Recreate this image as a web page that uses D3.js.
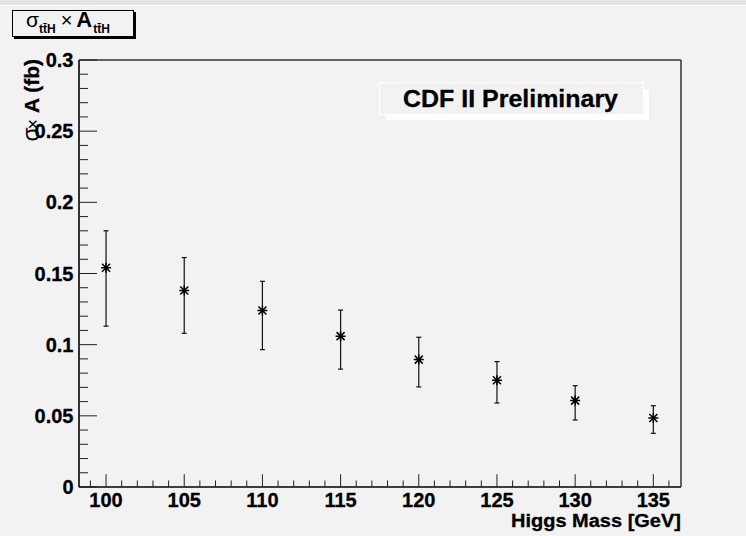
<!DOCTYPE html>
<html>
<head>
<meta charset="utf-8">
<script src="https://cdn.jsdelivr.net/npm/d3@7"></script>
<style>
  html, body { margin: 0; padding: 0; background: #f2f2f2; }
  svg { display: block; font-family: "Liberation Sans", Arial, Helvetica, sans-serif; }
</style>
</head>
<body>
<svg id="chart" width="746" height="536"></svg>
<script>
// Higgs mass points (GeV) and sigma x acceptance (fb) with lower / upper errors
const masses = [100, 105, 110, 115, 120, 125, 130, 135];
const sigmaA = [0.154, 0.138, 0.124, 0.106, 0.0895, 0.075, 0.0607, 0.0485];
const errLow = [0.041, 0.030, 0.0275, 0.0232, 0.0192, 0.016, 0.0136, 0.0108];
const errHigh = [0.026, 0.0232, 0.0205, 0.0183, 0.0157, 0.0131, 0.0105, 0.0086];
const xTicks = [100, 105, 110, 115, 120, 125, 130, 135];
const yTicks = [0, 0.05, 0.1, 0.15, 0.2, 0.25, 0.3];
const yTickLabels = ["0", "0.05", "0.1", "0.15", "0.2", "0.25", "0.3"];

const svg = d3.select("#chart");
const W = 746, H = 536;
const frame = { left: 79, right: 681, top: 60, bottom: 487 };

// canvas background with a light band at the top edge
svg.append("rect").attr("x", 0).attr("y", 0).attr("width", W).attr("height", H).attr("fill", "#f2f2f2");
svg.append("rect").attr("x", 0).attr("y", 0).attr("width", W).attr("height", 5).attr("fill", "#e3e3e3");
svg.append("rect").attr("x", 0).attr("y", 5).attr("width", W).attr("height", 1).attr("fill", "#ffffff");

const x = d3.scaleLinear().domain([98.27, 136.77]).range([frame.left, frame.right]);
const y = d3.scaleLinear().domain([0, 0.3]).range([frame.bottom, frame.top]);

// plot frame
const g = svg.append("g");
g.append("line").attr("x1", frame.left).attr("x2", frame.left).attr("y1", frame.top).attr("y2", frame.bottom)
  .attr("stroke", "#000").attr("stroke-width", 1.6);
g.append("line").attr("x1", frame.left).attr("x2", frame.right).attr("y1", frame.bottom).attr("y2", frame.bottom)
  .attr("stroke", "#000").attr("stroke-width", 1.6);
g.append("line").attr("x1", frame.right).attr("x2", frame.right).attr("y1", frame.top).attr("y2", frame.bottom)
  .attr("stroke", "#333").attr("stroke-width", 1.5);
g.append("line").attr("x1", frame.left).attr("x2", frame.right).attr("y1", frame.top).attr("y2", frame.top)
  .attr("stroke", "#333").attr("stroke-width", 1.5);

// x axis ticks: major every 5 GeV, minor every 1 GeV
const xMinor = d3.range(99, 137, 1).filter(v => v % 5 !== 0);
g.selectAll(".xminor").data(xMinor).join("line")
  .attr("x1", d => x(d)).attr("x2", d => x(d))
  .attr("y1", frame.bottom).attr("y2", frame.bottom - 6.5)
  .attr("stroke", "#222").attr("stroke-width", 1);
g.selectAll(".xmajor").data(xTicks).join("line")
  .attr("x1", d => x(d)).attr("x2", d => x(d))
  .attr("y1", frame.bottom).attr("y2", frame.bottom - 12.8)
  .attr("stroke", "#222").attr("stroke-width", 1);
g.selectAll(".xlab").data(xTicks).join("text")
  .attr("x", d => x(d)).attr("y", 506.5)
  .attr("text-anchor", "middle").attr("font-weight", "bold").attr("font-size", 20)
  .attr("stroke", "#000").attr("stroke-width", 0.3)
  .text(d => d);

// y axis ticks: major every 0.05, minor every 0.01
const yMinor = d3.range(1, 30).filter(i => i % 5 !== 0).map(i => i / 100);
g.selectAll(".yminor").data(yMinor).join("line")
  .attr("x1", frame.left).attr("x2", frame.left + 9)
  .attr("y1", d => y(d)).attr("y2", d => y(d))
  .attr("stroke", "#222").attr("stroke-width", 1);
g.selectAll(".ymajor").data(yTicks).join("line")
  .attr("x1", frame.left).attr("x2", frame.left + 18)
  .attr("y1", d => y(d)).attr("y2", d => y(d))
  .attr("stroke", "#222").attr("stroke-width", 1);
g.selectAll(".ylab").data(yTicks).join("text")
  .attr("x", 73.5).attr("y", d => y(d) + 7)
  .attr("text-anchor", "end").attr("font-weight", "bold").attr("font-size", 20)
  .attr("stroke", "#000").attr("stroke-width", 0.3)
  .text((d, i) => yTickLabels[i]);

// axis titles
svg.append("text").attr("x", frame.right).attr("y", 527)
  .attr("text-anchor", "end").attr("font-weight", "bold").attr("font-size", 18)
  .attr("stroke", "#000").attr("stroke-width", 0.3)
  .attr("textLength", 170).attr("lengthAdjust", "spacingAndGlyphs")
  .text("Higgs Mass [GeV]");

const yTitle = svg.append("text")
  .attr("transform", `translate(39,${frame.top - 1}) rotate(-90)`)
  .attr("text-anchor", "end").attr("font-size", 21);
yTitle.append("tspan").attr("font-weight", "normal").attr("font-size", 23).text("σ");
yTitle.append("tspan").attr("font-weight", "normal").attr("font-size", 18).attr("dx", -2).text("×");
yTitle.append("tspan").attr("font-weight", "bold").attr("stroke", "#000").attr("stroke-width", 0.3).text(" A (fb)");

// error bars
const pts = masses.map((m, i) => ({ m, v: sigmaA[i], lo: sigmaA[i] - errLow[i], hi: sigmaA[i] + errHigh[i] }));
const eb = svg.append("g").attr("stroke", "#111").attr("stroke-width", 1.2);
eb.selectAll(".bar").data(pts).join("line")
  .attr("x1", d => x(d.m)).attr("x2", d => x(d.m))
  .attr("y1", d => y(d.lo)).attr("y2", d => y(d.hi));
eb.selectAll(".capTop").data(pts).join("line")
  .attr("x1", d => x(d.m) - 2.5).attr("x2", d => x(d.m) + 2.5)
  .attr("y1", d => y(d.hi)).attr("y2", d => y(d.hi));
eb.selectAll(".capBot").data(pts).join("line")
  .attr("x1", d => x(d.m) - 2.5).attr("x2", d => x(d.m) + 2.5)
  .attr("y1", d => y(d.lo)).attr("y2", d => y(d.lo));

// asterisk markers
const r = 5, dd = 4;
svg.append("g").selectAll("path").data(pts).join("path")
  .attr("d", d => {
    const cx = x(d.m), cy = y(d.v);
    return `M${cx - r},${cy}H${cx + r}M${cx},${cy - r}V${cy + r}` +
      `M${cx - dd},${cy - dd}L${cx + dd},${cy + dd}M${cx - dd},${cy + dd}L${cx + dd},${cy - dd}`;
  })
  .attr("stroke", "#000").attr("stroke-width", 1.5).attr("fill", "none");

// "CDF II Preliminary" label box with a light shadow
svg.append("rect").attr("x", 386).attr("y", 89).attr("width", 263).attr("height", 31).attr("fill", "#ffffff");
svg.append("rect").attr("x", 379.5).attr("y", 82.5).attr("width", 264).attr("height", 32)
  .attr("fill", "#f2f2f2").attr("stroke", "#ffffff").attr("stroke-width", 1.2);
svg.append("text").attr("x", 403).attr("y", 107)
  .attr("font-weight", "bold").attr("font-size", 23)
  .attr("stroke", "#000").attr("stroke-width", 0.3)
  .attr("textLength", 215).attr("lengthAdjust", "spacingAndGlyphs")
  .text("CDF II Preliminary");

// title box with dark drop shadow
svg.append("rect").attr("x", 14).attr("y", 12).attr("width", 122).attr("height", 27).attr("fill", "#000");
svg.append("rect").attr("x", 12.5).attr("y", 10.5).attr("width", 121).attr("height", 26)
  .attr("fill", "#f2f2f2").attr("stroke", "#000").attr("stroke-width", 1);
const title = svg.append("text").attr("x", 26).attr("y", 27).attr("font-size", 19);
title.append("tspan").attr("font-size", 21).text("σ");
title.append("tspan").attr("font-size", 12).attr("font-weight", "bold").attr("dy", 6).text("tt\u0304H");
title.append("tspan").attr("font-size", 20).attr("dy", -6).attr("dx", 5).text("×");
title.append("tspan").attr("font-size", 22).attr("font-weight", "bold").attr("dx", 4).text("A");
title.append("tspan").attr("font-size", 12).attr("font-weight", "bold").attr("dy", 6).attr("dx", 1).text("tt\u0304H");
</script>
</body>
</html>
